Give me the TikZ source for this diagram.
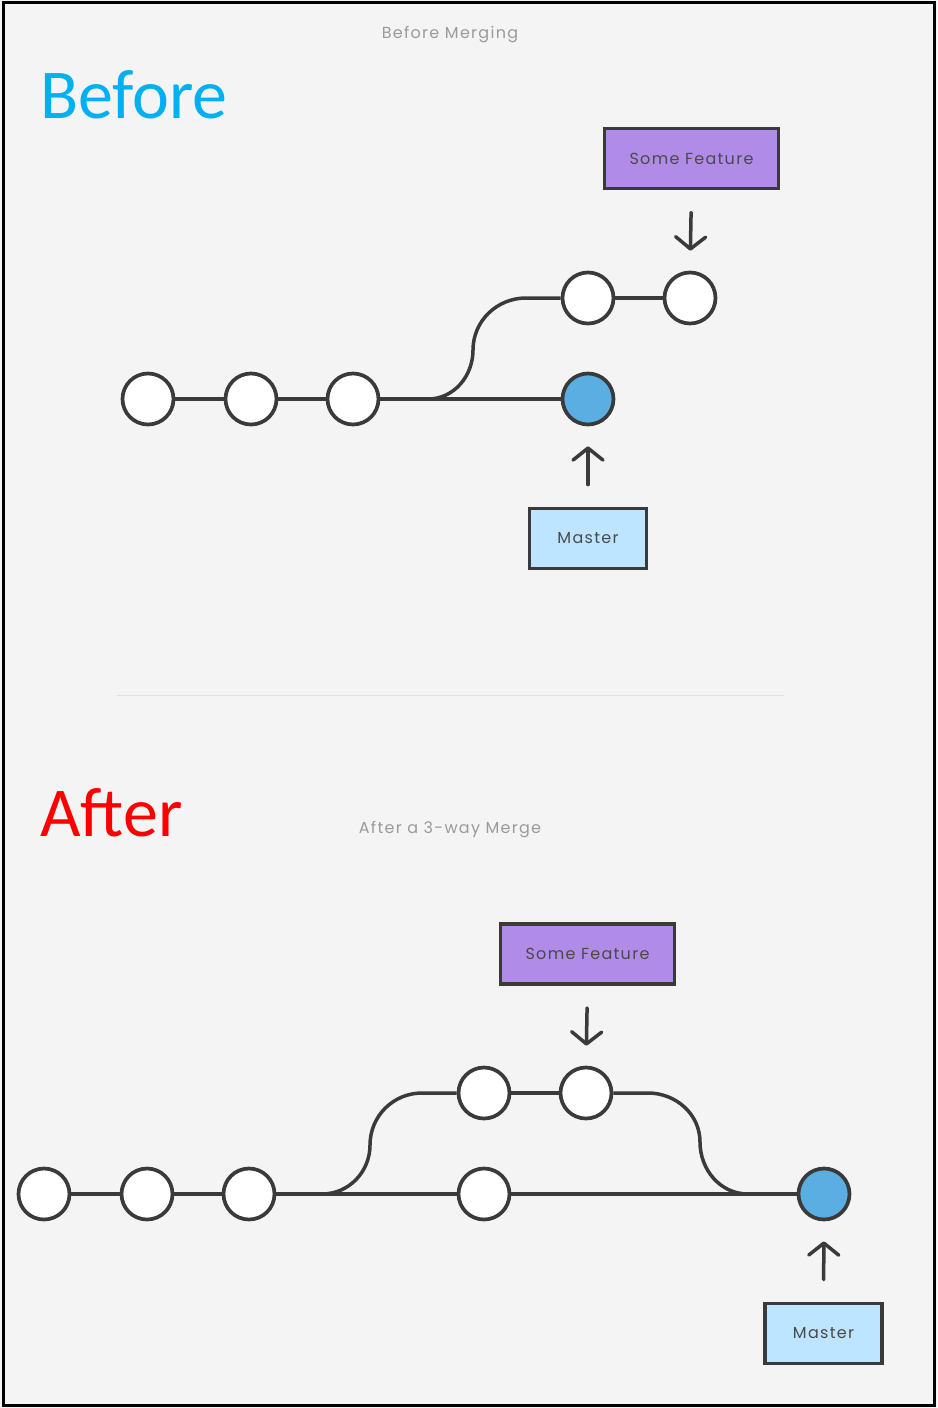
\documentclass[tikz,border=0pt]{standalone}
\usepackage{fontspec}
\setmainfont[LetterSpace=8]{Poppins}
\newfontfamily\carlitofont{Carlito}
\usetikzlibrary{arrows.meta}
\definecolor{bg}{HTML}{F4F4F4}
\definecolor{ink}{HTML}{3A3A3A}
\definecolor{headblue}{HTML}{5AAEE2}
\definecolor{purp}{HTML}{B08BE8}
\definecolor{lblue}{HTML}{BDE5FF}
\definecolor{cyantxt}{HTML}{00B0F0}
\definecolor{graytxt}{HTML}{9A9A9A}
\definecolor{boxtxt}{HTML}{4A4A4A}
\tikzset{
  commit/.style={circle, draw=ink, line width=3.7pt, fill=white, minimum size=51pt, inner sep=0pt},
  headc/.style={commit, fill=headblue},
  branch/.style={draw=ink, line width=3.5pt},
  featbox/.style={rectangle, draw=ink, line width=3.8pt, fill=purp, minimum width=174pt, minimum height=60pt, inner sep=0pt, font=\fontsize{16}{18}\selectfont, text=boxtxt},
  masterbox/.style={rectangle, draw=ink, line width=3.8pt, fill=lblue, minimum width=117pt, minimum height=60pt, inner sep=0pt, font=\fontsize{16}{18}\selectfont, text=boxtxt},
  ptr/.style={draw=ink, line width=3.5pt, line cap=round, -{Straight Barb[length=12pt,width=30pt,round]}},
  title/.style={font=\fontsize{16}{18}\selectfont, text=graytxt},
  big/.style={font=\carlitofont\fontsize{70}{72}\selectfont, anchor=base west, inner sep=0pt}
}
\begin{document}
\begin{tikzpicture}[x=1pt,y=-1pt]
\useasboundingbox (0,0) rectangle (937,1408);
\fill[bg] (0,0) rectangle (937,1408);
\draw[line width=3pt, black] (3.5,2.5) rectangle (934.5,1405.5);

% titles
\node[title] (t1) at (450,35) {Before Merging};
\node[title] (t2) at (450,830) {After a 3-way Merge};
\node[big, text=cyantxt] (tb) at (40,118) {Before};
\node[big, text=red] (ta) at (40,836) {After};

% separator
\draw[line width=1pt, color=black!12] (117,695) -- (784,695);

% ---------- Before ----------
\node[commit] (b1) at (148,399) {};
\node[commit] (b2) at (251,399) {};
\node[commit] (b3) at (353,399) {};
\node[headc]  (b4) at (588,399) {};
\node[commit] (b5) at (588,298) {};
\node[commit] (b6) at (690,298) {};
\coordinate (bs) at (428,399);
\draw[branch] (b1) -- (b2);
\draw[branch] (b2) -- (b3);
\draw[branch] (b3) -- (b4);
\draw[branch] (b5) -- (b6);
\draw[branch] (bs) to[out=0,in=-90] (473,350) to[out=90,in=180] (526,298) -- (b5.west);

\node[featbox] (f1) at (691.5,158.5) {Some Feature};
\node[masterbox] (m1) at (588,538.5) {Master};
\draw[ptr, shorten <=22pt, shorten >=20pt] (f1.south) -- (b6.north);
\draw[ptr, shorten <=22pt, shorten >=20pt] (m1.north) -- (b4.south);

% ---------- After ----------
\node[commit] (a1) at (44,1194) {};
\node[commit] (a2) at (147,1194) {};
\node[commit] (a3) at (249,1194) {};
\node[commit] (a4) at (484,1194) {};
\node[headc]  (a5) at (824,1194) {};
\node[commit] (a6) at (484,1093) {};
\node[commit] (a7) at (586,1093) {};
\coordinate (as) at (322,1194);
\coordinate (ae) at (748,1194);
\draw[branch] (a1) -- (a2);
\draw[branch] (a2) -- (a3);
\draw[branch] (a3) -- (a4);
\draw[branch] (a4) -- (a5);
\draw[branch] (a6) -- (a7);
\draw[branch] (as) to[out=0,in=-90] (370,1145) to[out=90,in=180] (422,1093) -- (a6.west);
\draw[branch] (a7.east) -- (648,1093) to[out=0,in=90] (700,1142) to[out=-90,in=180] (ae);

\node[featbox] (f2) at (587.5,954) {Some Feature};
\node[masterbox] (m2) at (823.5,1333.5) {Master};
\draw[ptr, shorten <=22pt, shorten >=20pt] (f2.south) -- (a7.north);
\draw[ptr, shorten <=22pt, shorten >=20pt] (m2.north) -- (a5.south);
\end{tikzpicture}
\end{document}
